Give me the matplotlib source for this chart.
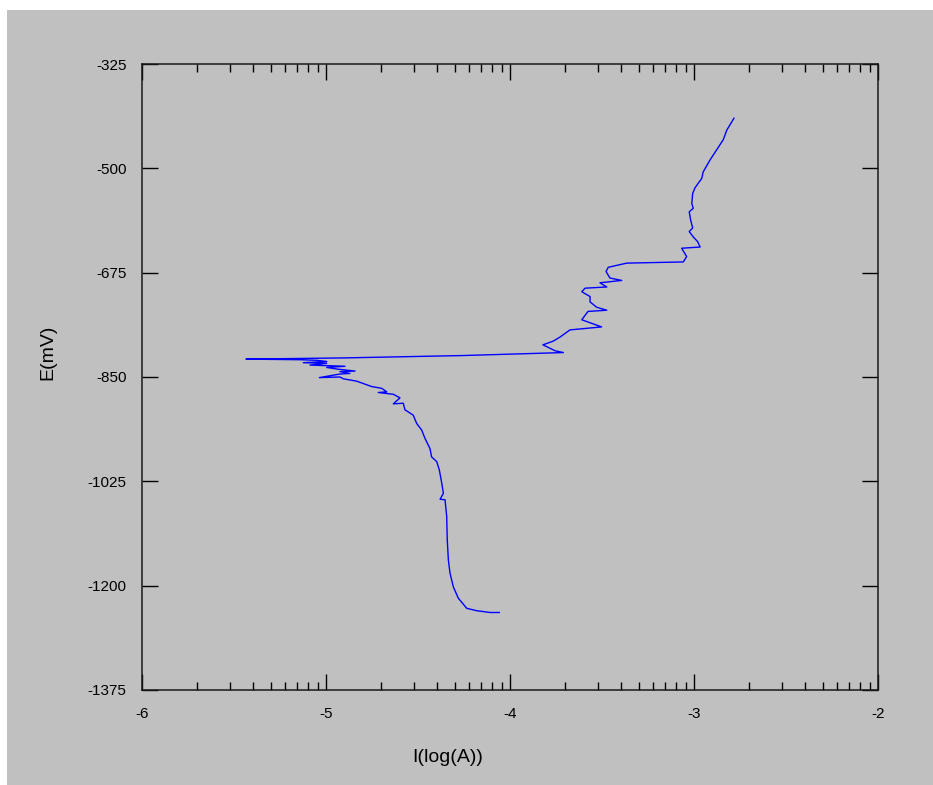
import matplotlib
matplotlib.use("Agg")
import matplotlib.pyplot as plt
import numpy as np
from matplotlib.patches import Rectangle
from matplotlib.ticker import FixedLocator

GREY = "#C0C0C0"
LINE = "#0000FF"

plt.rcParams["font.family"] = ["Liberation Sans", "DejaVu Sans"]

# polarisation scan, cathodic start -> anodic end
log_i = [
    -4.058, -4.109, -4.181, -4.235, -4.281, -4.308, -4.326, -4.335, -4.341, -4.344,
    -4.353, -4.380, -4.362, -4.371, -4.384, -4.398, -4.426, -4.435, -4.462, -4.480,
    -4.507, -4.526, -4.571, -4.580, -4.634, -4.598, -4.634, -4.716, -4.670, -4.697,
    -4.752, -4.788, -4.833, -4.906, -4.924, -5.036, -4.924, -4.870, -4.924, -4.842,
    -4.933, -4.996, -4.897, -5.087, -4.996, -5.123, -4.996, -5.051, -5.141, -5.435,
    -4.906, -4.255, -3.710, -3.755, -3.821, -3.766, -3.728, -3.674, -3.502, -3.610,
    -3.576, -3.474, -3.529, -3.565, -3.565, -3.610, -3.592, -3.474, -3.511, -3.393,
    -3.457, -3.478, -3.466, -3.366, -3.058, -3.040, -3.067, -2.967, -2.980, -3.004,
    -3.026, -3.007, -3.018, -3.026, -3.004, -3.012, -3.007, -2.995, -2.977, -2.958,
    -2.950, -2.913, -2.877, -2.841, -2.822, -2.783,
]
e_mv = [
    -1245, -1245, -1242, -1238, -1221, -1202, -1179, -1157, -1123, -1084,
    -1056, -1055, -1045, -1028, -1006, -992, -984, -970, -953, -939,
    -928, -914, -905, -894, -895, -885, -879, -876, -875, -869,
    -866, -862, -857, -853, -850, -851, -845, -844, -841, -840,
    -837, -834, -832, -830, -827, -826, -824, -822, -821, -820,
    -818, -814, -809, -806, -796, -790, -783, -771, -766, -754,
    -740, -738, -733, -724, -715, -707, -701, -699, -692, -688,
    -684, -673, -666, -659, -657, -648, -634, -632, -623, -615,
    -606, -600, -587, -573, -567, -559, -542, -533, -525, -517,
    -506, -486, -469, -452, -436, -416,
]

x_ticks = [-6, -5, -4, -3, -2]
y_ticks = [-325, -500, -675, -850, -1025, -1200, -1375]

fig = plt.figure(figsize=(9.33, 7.85), dpi=100, facecolor="white")
fig.patches.append(Rectangle((7 / 933, 0), 1, 1 - 10 / 785, transform=fig.transFigure,
                             facecolor=GREY, edgecolor="none", zorder=-10))
ax = fig.add_axes([142 / 933, 1 - 690 / 785, 736 / 933, 626 / 785])
ax.set_facecolor(GREY)

ax.plot(log_i, e_mv, color=LINE, linewidth=1.0)

ax.set_xlim(-6, -2)
ax.set_ylim(-1375, -325)
ax.set_xticks(x_ticks)
ax.set_xticklabels([str(t) for t in x_ticks])
minor = [d + np.log10(k) for d in x_ticks[:-1] for k in range(2, 10)]
ax.xaxis.set_minor_locator(FixedLocator(minor))
ax.set_yticks(y_ticks)
ax.set_yticklabels([str(t) for t in y_ticks])

ax.tick_params(axis="x", which="major", direction="in", length=11.5, width=1.0,
               top=True, bottom=True, labelsize=11, pad=12)
ax.tick_params(axis="x", which="minor", direction="in", length=5.8, width=1.0,
               top=True, bottom=True)
ax.tick_params(axis="y", which="major", direction="in", length=11.5, width=1.0,
               left=True, right=True, labelsize=11, pad=11)
for spine in ax.spines.values():
    spine.set_linewidth(1.1)
    spine.set_color("#1a1a1a")

ax.set_xlabel("I(log(A))", fontsize=14)
ax.set_ylabel("E(mV)", fontsize=14)
ax.xaxis.set_label_coords(306 / 736, -59 / 626)
ax.yaxis.set_label_coords(-86 / 736, 338 / 626)

fig.savefig("out.png", dpi=100, facecolor="white")
